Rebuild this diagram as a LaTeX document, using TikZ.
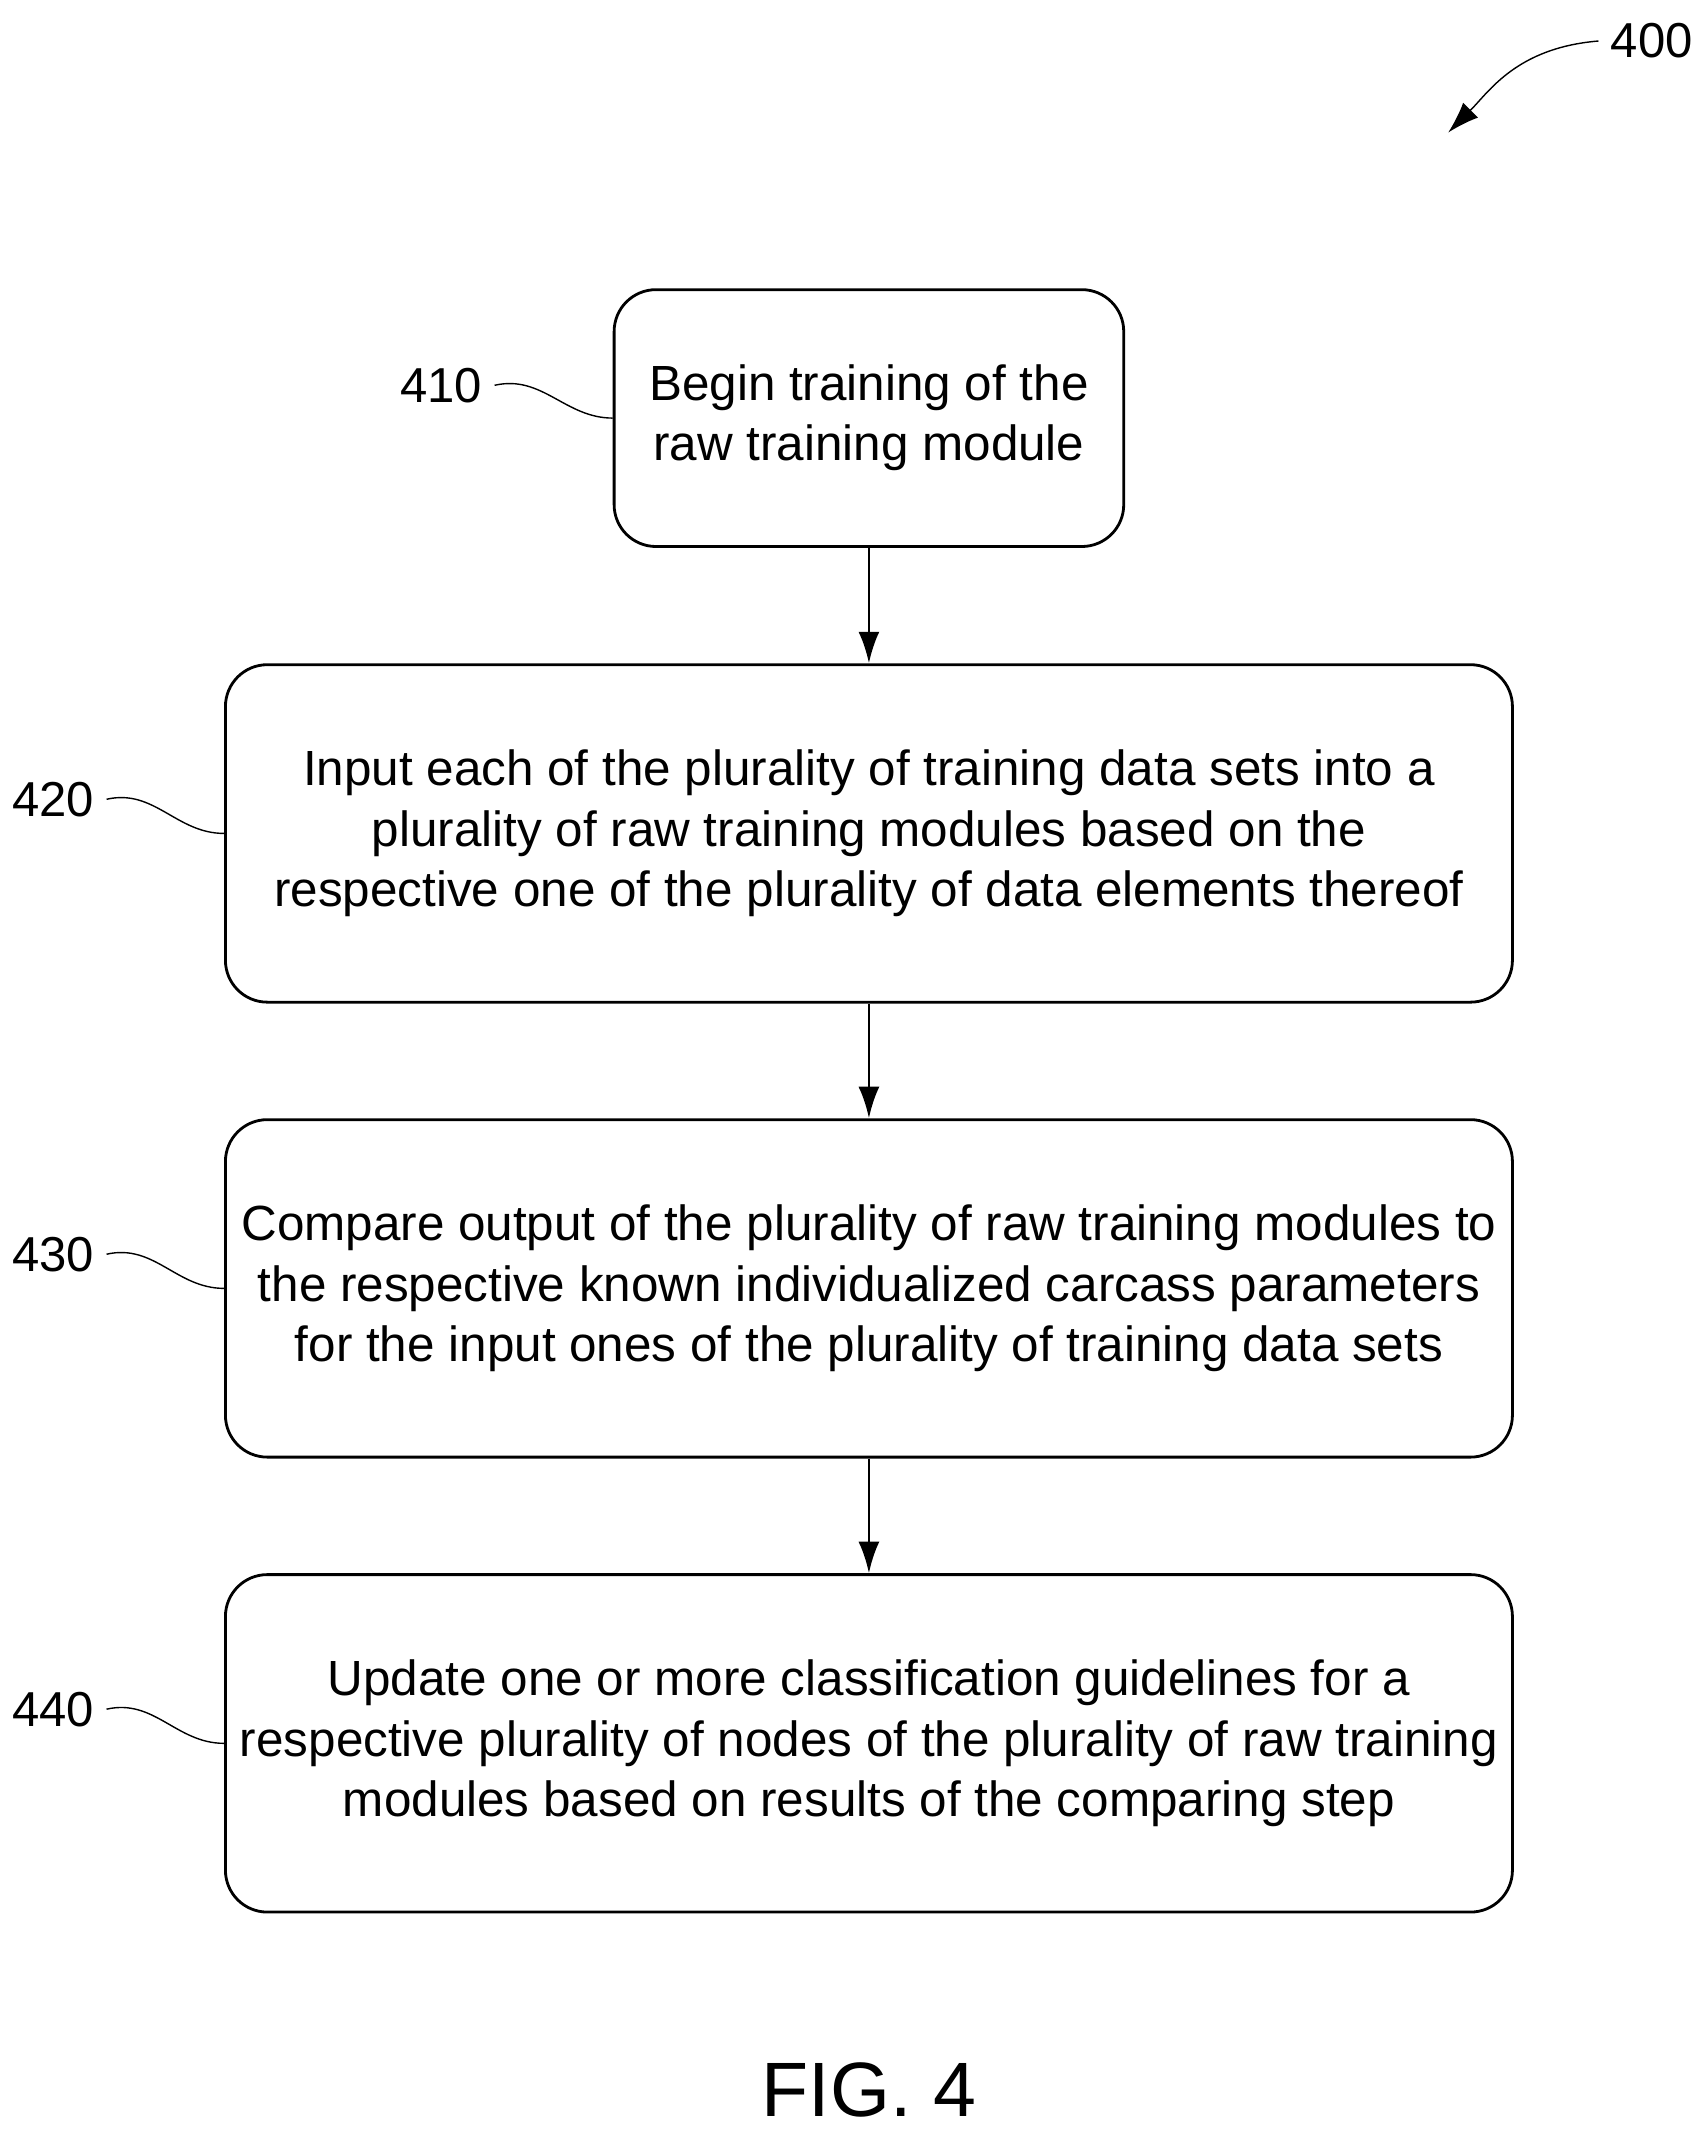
\documentclass[tikz,border=0pt]{standalone}
\usepackage{fontspec}
\setmainfont{Liberation Sans}
\usetikzlibrary{positioning,arrows.meta}

\begin{document}
\begin{tikzpicture}[x=0.0137cm, y=-0.0137cm,
  flowbox/.style={draw, thick, rounded corners=0.42cm, align=center,
    font=\fontsize{14.1}{17.2}\selectfont, inner sep=0pt},
  ref/.style={font=\fontsize{14}{16}\selectfont},
  lead/.style={thin}]

\useasboundingbox (0,0) rectangle (1250,1570);

% Steps
\node[flowbox, minimum width=373*0.0137cm, minimum height=188*0.0137cm] (s410) at (636,306)
  {Begin training of the\\raw training module};
\node[flowbox, minimum width=942*0.0137cm, minimum height=247*0.0137cm] (s420) at (636,610)
  {Input each of the plurality of training data sets into a\\plurality of raw training modules based on the\\respective one of the plurality of data elements thereof};
\node[flowbox, minimum width=942*0.0137cm, minimum height=247*0.0137cm] (s430) at (636,943)
  {Compare output of the plurality of raw training modules to\\the respective known individualized carcass parameters\\for the input ones of the plurality of training data sets};
\node[flowbox, minimum width=942*0.0137cm, minimum height=247*0.0137cm] (s440) at (636,1276)
  {Update one or more classification guidelines for a\\respective plurality of nodes of the plurality of raw training\\modules based on results of the comparing step};

% Reference numerals
\node[ref, anchor=east] (r410) at (362,282) {410};
\node[ref, anchor=east] (r420) at (78,585) {420};
\node[ref, anchor=east] (r430) at (78,918) {430};
\node[ref, anchor=east] (r440) at (78,1251) {440};
\node[ref, anchor=west] (r400) at (1170,30) {400};
\coordinate (a400) at (1060,97);

% Connections
\foreach \a/\b in {s410/s420,s420/s430,s430/s440}
  \draw[thick,-{Latex[length=9pt,width=6pt]}] (\a) -- (\b);
\foreach \r/\s in {r410/s410,r420/s420,r430/s430,r440/s440}
  \draw[lead] (\r.east) .. controls +(35,-8) and +(-35,0) .. (\s.west);
\draw[lead,-{Latex[length=9pt,width=6pt]}] (r400.west) .. controls +(-60,5) and +(30,-30) .. (a400);

% Caption
\node[font=\fontsize{22}{26}\selectfont] (fig) at (636,1530) {FIG. 4};
\end{tikzpicture}
\end{document}
